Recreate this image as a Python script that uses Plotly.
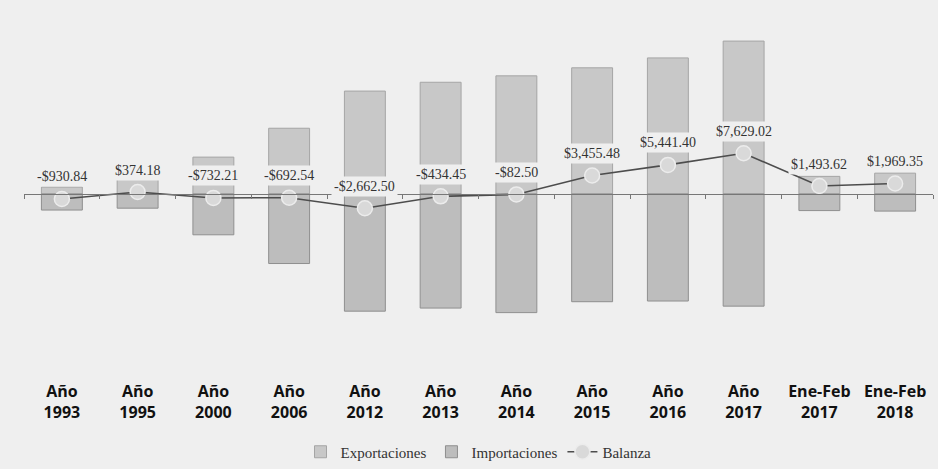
import plotly.graph_objects as go

categorias = ["Año<br>1993", "Año<br>1995", "Año<br>2000", "Año<br>2006", "Año<br>2012",
              "Año<br>2013", "Año<br>2014", "Año<br>2015", "Año<br>2016", "Año<br>2017",
              "Ene-Feb<br>2017", "Ene-Feb<br>2018"]
exportaciones = [1300, 3000, 6900, 12300, 19250, 20900, 22100, 23600, 25450, 28600, 3300, 3900]
importaciones = [3000, 2650, 7630, 13000, 21910, 21330, 22180, 20140, 20010, 20970, 3100, 3200]
balanza = [-930.84, 374.18, -732.21, -692.54, -2662.50, -434.45, -82.50,
           3455.48, 5441.40, 7629.02, 1493.62, 1969.35]

BG = "#efefef"
y_min, y_max = -34780, 32540
zero_pos = (0 - y_min) / (y_max - y_min)
x_range = [-0.5, len(categorias) - 0.5]

fig = go.Figure()
fig.add_trace(go.Bar(
    x=categorias, y=exportaciones, name="Exportaciones",
    marker=dict(color="#c8c8c8", line=dict(color="#a5a5a5", width=1)),
    width=0.54,
))
fig.add_trace(go.Bar(
    x=categorias, y=[-v for v in importaciones], name="Importaciones",
    marker=dict(color="#bdbdbd", line=dict(color="#8f8f8f", width=1)),
    width=0.54,
))
fig.add_trace(go.Scatter(
    x=categorias, y=balanza, name="Balanza", mode="lines+markers",
    xaxis="x2",
    line=dict(color="#4d4d4d", width=1.6),
    marker=dict(size=15, color="#d9d9d9", line=dict(color="#ececec", width=1.5)),
))

def fmt(v):
    return ("-$" if v < 0 else "$") + f"{abs(v):,.2f}"

annotations = []
for c, v in zip(categorias, balanza):
    annotations.append(dict(
        x=c, y=v, xref="x", yref="y", text=fmt(v), showarrow=False,
        yshift=22, yanchor="middle", bgcolor=BG, borderpad=2,
        font=dict(family="Liberation Serif", size=14, color="#333333"),
    ))

fig.update_layout(
    width=938, height=469,
    margin=dict(l=24, r=5, t=20, b=89, autoexpand=False),
    paper_bgcolor=BG, plot_bgcolor=BG,
    barmode="relative",
    showlegend=True,
    legend=dict(orientation="h", x=0.5, xanchor="center", y=-0.2, yanchor="middle",
                font=dict(family="Liberation Serif", size=15, color="#333333"),
                bgcolor="rgba(0,0,0,0)", traceorder="normal"),
    xaxis=dict(type="category", range=x_range, autorange=False, automargin=False,
               showline=False, ticks="", showgrid=False, zeroline=False,
               tickfont=dict(family="Open Sans", size=16, color="#111111", weight="bold")),
    xaxis2=dict(type="category", overlaying="x", matches="x", anchor="free", position=zero_pos,
                range=x_range, autorange=False, automargin=False,
                showline=True, linecolor="#777777", linewidth=1, ticks="outside",
                tickson="boundaries", ticklen=4, tickcolor="#777777",
                showticklabels=False, showgrid=False, side="bottom"),
    yaxis=dict(range=[y_min, y_max], autorange=False, visible=False, showgrid=False,
               zeroline=False, automargin=False),
    annotations=annotations,
)

fig.write_html("out.html", config={"displayModeBar": False},
               post_script="document.body.style.margin='0';document.body.style.background='%s';" % BG)
